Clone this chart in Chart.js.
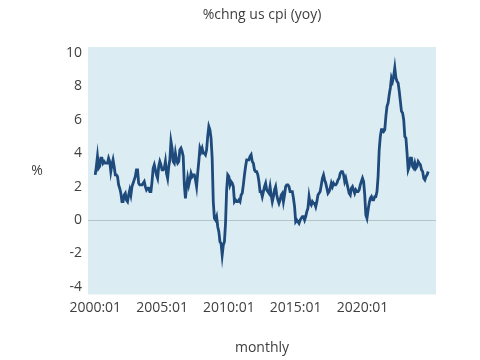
<!DOCTYPE html>
<html>
<head>
<meta charset="utf-8">
<script src="https://cdn.jsdelivr.net/npm/chart.js@4"></script>
<style>
  html, body { margin: 0; padding: 0; background: #fff; }
  #wrap { width: 480px; height: 360px; }
</style>
</head>
<body>
<div id="wrap"><canvas id="cpiChart" width="480" height="360"></canvas></div>
<script>
// monthly yoy % change, 2000:01 .. 2024:12
const cpi2000 = [2.7, 3.2, 3.8, 3.1, 3.2, 3.7, 3.7, 3.4, 3.5, 3.4, 3.4, 3.4];
const cpi2001 = [3.7, 3.5, 2.9, 3.3, 3.6, 3.2, 2.7, 2.7, 2.6, 2.1, 1.9, 1.6];
const cpi2002 = [1.1, 1.1, 1.5, 1.6, 1.2, 1.1, 1.5, 1.8, 1.5, 2.0, 2.2, 2.4];
const cpi2003 = [2.6, 3.0, 3.0, 2.2, 2.1, 2.1, 2.1, 2.2, 2.3, 2.0, 1.8, 1.9];
const cpi2004 = [1.9, 1.7, 1.7, 2.3, 3.1, 3.3, 3.0, 2.7, 2.5, 3.2, 3.5, 3.3];
const cpi2005 = [3.0, 3.0, 3.1, 3.5, 2.8, 2.5, 3.2, 3.6, 4.7, 4.3, 3.5, 3.4];
const cpi2006 = [4.0, 3.6, 3.4, 3.5, 4.2, 4.3, 4.1, 3.8, 2.1, 1.3, 2.0, 2.5];
const cpi2007 = [2.1, 2.4, 2.8, 2.6, 2.7, 2.7, 2.4, 2.0, 2.8, 3.5, 4.3, 4.1];
const cpi2008 = [4.3, 4.0, 4.0, 3.9, 4.2, 5.0, 5.6, 5.4, 4.9, 3.7, 1.1, 0.1];
const cpi2009 = [0.0, 0.2, -0.4, -0.7, -1.3, -1.4, -2.1, -1.5, -1.3, -0.2, 1.8, 2.7];
const cpi2010 = [2.6, 2.1, 2.3, 2.2, 2.0, 1.1, 1.2, 1.1, 1.1, 1.2, 1.1, 1.5];
const cpi2011 = [1.6, 2.1, 2.7, 3.2, 3.6, 3.6, 3.6, 3.8, 3.9, 3.5, 3.4, 3.0];
const cpi2012 = [2.9, 2.9, 2.7, 2.3, 1.7, 1.7, 1.4, 1.7, 2.0, 2.2, 1.8, 1.7];
const cpi2013 = [1.6, 2.0, 1.5, 1.1, 1.4, 1.8, 2.0, 1.5, 1.2, 1.0, 1.2, 1.5];
const cpi2014 = [1.6, 1.1, 1.5, 2.0, 2.1, 2.1, 2.0, 1.7, 1.7, 1.7, 1.3, 0.8];
const cpi2015 = [-0.1, 0.0, -0.1, -0.2, 0.0, 0.1, 0.2, 0.2, 0.0, 0.2, 0.5, 0.7];
const cpi2016 = [1.4, 1.0, 0.9, 1.1, 1.0, 1.0, 0.8, 1.1, 1.5, 1.6, 1.7, 2.1];
const cpi2017 = [2.5, 2.7, 2.4, 2.2, 1.9, 1.6, 1.7, 1.9, 2.2, 2.0, 2.2, 2.1];
const cpi2018 = [2.1, 2.2, 2.4, 2.5, 2.8, 2.9, 2.9, 2.7, 2.3, 2.5, 2.2, 1.9];
const cpi2019 = [1.6, 1.5, 1.9, 2.0, 1.8, 1.6, 1.8, 1.7, 1.7, 1.8, 2.1, 2.3];
const cpi2020 = [2.5, 2.3, 1.5, 0.3, 0.1, 0.6, 1.0, 1.3, 1.4, 1.2, 1.2, 1.4];
const cpi2021 = [1.4, 1.7, 2.6, 4.2, 5.0, 5.4, 5.4, 5.3, 5.4, 6.2, 6.8, 7.0];
const cpi2022 = [7.5, 7.9, 8.5, 8.3, 8.6, 9.1, 8.5, 8.3, 8.2, 7.7, 7.1, 6.5];
const cpi2023 = [6.4, 6.0, 5.0, 4.9, 4.0, 3.0, 3.2, 3.7, 3.7, 3.2, 3.1, 3.4];
const cpi2024 = [3.1, 3.2, 3.5, 3.4, 3.3, 3.0, 2.9, 2.5, 2.4, 2.6, 2.7, 2.9];

const years = [cpi2000, cpi2001, cpi2002, cpi2003, cpi2004, cpi2005, cpi2006, cpi2007,
  cpi2008, cpi2009, cpi2010, cpi2011, cpi2012, cpi2013, cpi2014, cpi2015, cpi2016,
  cpi2017, cpi2018, cpi2019, cpi2020, cpi2021, cpi2022, cpi2023, cpi2024];

const xTickPos = [0, 60, 120, 180, 240];
const xTickLabels = ['2000:01', '2005:01', '2010:01', '2015:01', '2020:01'];
const yTicks = [-4, -2, 0, 2, 4, 6, 8, 10];

const points = [];
years.forEach((arr, yi) => {
  arr.forEach((v, m) => points.push({ x: yi * 12 + m, y: v }));
});

const font = { family: '"Open Sans", sans-serif', size: 14 };
const textColor = '#404040';

// light blue plot area, title over the plot, upright "%" axis label
const plotBg = {
  id: 'plotBg',
  beforeDraw(chart) {
    const { ctx, chartArea: a } = chart;
    ctx.save();
    ctx.fillStyle = '#dbedf3';
    ctx.fillRect(a.left, a.top, a.right - a.left, a.bottom - a.top);
    ctx.restore();
  },
  afterDraw(chart) {
    const { ctx, chartArea: a } = chart;
    ctx.save();
    ctx.fillStyle = textColor;
    ctx.font = '14px "Open Sans", sans-serif';
    ctx.textAlign = 'center';
    ctx.textBaseline = 'middle';
    ctx.fillText('%chng us cpi (yoy)', (a.left + a.right) / 2, 15);
    ctx.fillText('%', 37, 171);
    ctx.restore();
  }
};

new Chart(document.getElementById('cpiChart'), {
  type: 'line',
  data: {
    datasets: [{
      data: points,
      borderColor: '#1f4a7c',
      borderWidth: 2.8,
      pointRadius: 0,
      tension: 0,
      fill: false
    }]
  },
  options: {
    responsive: false,
    animation: false,
    layout: { padding: { left: 0, right: 44, top: 47, bottom: 4 } },
    plugins: {
      legend: { display: false },
      tooltip: { enabled: false },
      title: { display: false }
    },
    scales: {
      x: {
        type: 'linear',
        min: -6.5,
        max: 306,
        afterBuildTicks: s => { s.ticks = xTickPos.map(v => ({ value: v })); },
        ticks: {
          color: textColor,
          font: font,
          padding: 5,
          maxRotation: 0,
          autoSkip: false,
          callback: v => xTickLabels[xTickPos.indexOf(v)]
        },
        grid: { display: false, drawTicks: false },
        border: { display: false },
        title: {
          display: true,
          text: 'monthly',
          color: textColor,
          font: font,
          padding: { top: 18, bottom: 0 }
        }
      },
      y: {
        min: -4.45,
        max: 10.35,
        afterBuildTicks: s => { s.ticks = yTicks.map(v => ({ value: v })); },
        afterFit: s => { s.width = 88; },
        ticks: { color: textColor, font: font, padding: 6 },
        grid: {
          drawTicks: false,
          color: c => (c.tick && c.tick.value === 0 ? '#b4c3c8' : 'rgba(0,0,0,0)'),
          lineWidth: 1
        },
        border: { display: false }
      }
    }
  },
  plugins: [plotBg]
});
</script>
</body>
</html>
